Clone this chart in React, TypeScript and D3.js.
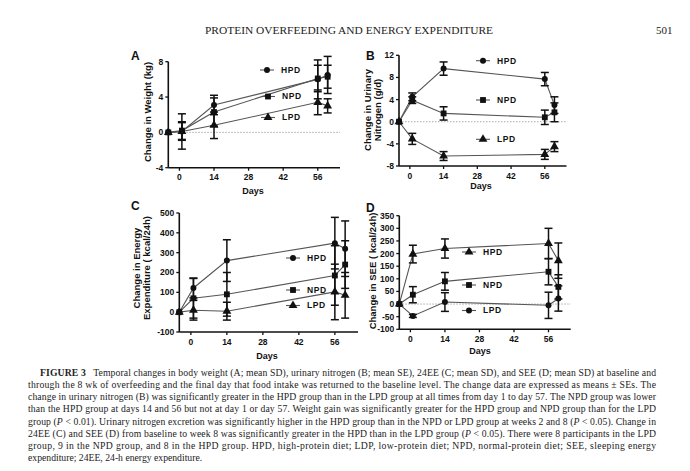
import React from 'react';
import * as d3 from 'd3';

// ---------- DATA ----------
const days = [-4.5, 1, 14, 56, 60];
const xTicks = [0, 14, 28, 42, 56];
const groups = ['HPD', 'NPD', 'LPD'];

// A: change in weight (kg)
const weightTicks = [-4, 0, 4, 8];
const weightHPD = [0, 0.1, 3.1, 6.0, 6.5];
const weightHPDErr = [0, 2.0, 1.1, 2.2, 2.1];
const weightNPD = [0, 0.2, 2.3, 6.1, 6.3];
const weightNPDErr = [0, 1.0, 1.6, 1.5, 1.3];
const weightLPD = [0, 0.1, 0.8, 3.4, 3.0];
const weightLPDErr = [0, 1.0, 1.5, 1.4, 0.8];

// B: change in urinary nitrogen (g/d)
const nitroTicks = [-8, -4, 0, 4, 8, 12];
const nitroHPD = [0, 4.5, 9.6, 7.7, 3.0];
const nitroHPDErr = [0, 0.7, 1.2, 1.2, 1.5];
const nitroNPD = [0, 3.9, 1.5, 0.8, 1.7];
const nitroNPDErr = [0, 0.6, 1.2, 1.3, 1.7];
const nitroLPD = [0, -3.1, -6.2, -5.9, -4.5];
const nitroLPDErr = [0, 1.0, 0.8, 0.9, 0.9];

// C: change in energy expenditure (kcal/24h)
const eeTicks = [-100, 0, 100, 200, 300, 400, 500];
const eeHPD = [0, 122, 260, 348, 320];
const eeHPDErr = [0, 50, 105, 130, 140];
const eeNPD = [0, 70, 90, 185, 240];
const eeNPDErr = [0, 100, 110, 150, 120];
const eeLPD = [0, 10, 5, 102, 85];
const eeLPDErr = [0, 50, 45, 140, 115];

// D: change in SEE (kcal/24h)
const seeTicks = [-100, -50, 0, 50, 100, 150, 200, 250, 300, 350];
const seeHPD = [0, 198, 220, 240, 172];
const seeHPDErr = [0, 35, 38, 60, 70];
const seeNPD = [0, 37, 90, 128, 68];
const seeNPDErr = [0, 32, 35, 52, 48];
const seeLPD = [0, -47, 8, -5, 22];
const seeLPDErr = [0, 6, 37, 52, 50];

const headerText = 'PROTEIN OVERFEEDING AND ENERGY EXPENDITURE';
const pageNumber = '501';

// ---------- STYLE ----------
const SANS = "'Liberation Sans', Arial, sans-serif";
const SERIF = "'Liberation Serif', 'Times New Roman', serif";

type Shape = 'circle' | 'square' | 'triangle';

const symbolFor = (s: Shape) =>
  s === 'circle' ? d3.symbolCircle : s === 'square' ? d3.symbolSquare : d3.symbolTriangle;
const sizeFor = (s: Shape) => (s === 'circle' ? 28 : s === 'square' ? 34 : 34);

function Marker({ shape, cx, cy }: { shape: Shape; cx: number; cy: number }) {
  const p = d3.symbol().type(symbolFor(shape)).size(sizeFor(shape))() as string;
  return <path d={p} transform={`translate(${cx},${cy})`} fill="#111" />;
}

interface Series {
  name: string;
  values: number[];
  errs: number[];
  shape: Shape;
  legend: [number, number];
}

interface PanelCfg {
  letter: string;
  letterPos: [number, number];
  x0: number;
  x1: number;
  yTop: number;
  yBottom: number;
  yDomain: [number, number];
  yTicks: number[];
  series: Series[];
  zeroLine: boolean;
  titleLines: string[];
  titleX: number[];
  titleY: number;
  daysPos: [number, number];
}

function Panel({ cfg }: { cfg: PanelCfg }) {
  const x = d3.scaleLinear().domain([-4.5, 65]).range([cfg.x0, cfg.x1]);
  const y = d3.scaleLinear().domain(cfg.yDomain).range([cfg.yBottom, cfg.yTop]);
  const line = d3
    .line<number>()
    .x((_, i) => x(days[i]))
    .y((v) => y(v));
  const axisY = cfg.yBottom;
  return (
    <g>
      <text x={cfg.letterPos[0]} y={cfg.letterPos[1]} fontFamily={SANS} fontWeight="bold" fontSize={12} fill="#111">
        {cfg.letter}
      </text>
      {cfg.zeroLine && (
        <line x1={cfg.x0} x2={cfg.x1} y1={y(0)} y2={y(0)} stroke="#aaa" strokeWidth={1} strokeDasharray="1.5,1.5" />
      )}
      {cfg.series.map((s) => (
        <path key={s.name + 'l'} d={line(s.values) as string} fill="none" stroke="#555" strokeWidth={1.1} />
      ))}
      {cfg.series.map((s) =>
        s.values.map((v, i) =>
          s.errs[i] > 0 ? (
            <g key={s.name + 'e' + i} stroke="#111" strokeWidth={1.5}>
              <line x1={x(days[i])} x2={x(days[i])} y1={y(v - s.errs[i])} y2={y(v + s.errs[i])} />
              <line x1={x(days[i]) - 4} x2={x(days[i]) + 4} y1={y(v - s.errs[i])} y2={y(v - s.errs[i])} />
              <line x1={x(days[i]) - 4} x2={x(days[i]) + 4} y1={y(v + s.errs[i])} y2={y(v + s.errs[i])} />
            </g>
          ) : null
        )
      )}
      {cfg.series.map((s) =>
        s.values.map((v, i) => <Marker key={s.name + 'm' + i} shape={s.shape} cx={x(days[i])} cy={y(v)} />)
      )}
      {cfg.series.map((s) => (
        <g key={s.name + 'lg'}>
          <line x1={s.legend[0] - 7} x2={s.legend[0] + 7} y1={s.legend[1]} y2={s.legend[1]} stroke="#555" strokeWidth={1.1} />
          <Marker shape={s.shape} cx={s.legend[0]} cy={s.legend[1]} />
          <text
            x={s.legend[0] + 14}
            y={s.legend[1]}
            dy="0.35em"
            fontFamily={SANS}
            fontWeight="bold"
            fontSize={8.5}
            letterSpacing={0.6}
            fill="#111"
          >
            {s.name}
          </text>
        </g>
      ))}
      <line x1={cfg.x0} x2={cfg.x0} y1={cfg.yTop} y2={axisY} stroke="#111" strokeWidth={1.6} />
      <line x1={cfg.x0} x2={cfg.x1} y1={axisY} y2={axisY} stroke="#111" strokeWidth={1.6} />
      {cfg.yTicks.map((t) => (
        <g key={'yt' + t}>
          <line x1={cfg.x0 - 3} x2={cfg.x0} y1={y(t)} y2={y(t)} stroke="#111" strokeWidth={1.3} />
          <text
            x={cfg.x0 - 5}
            y={y(t)}
            dy="0.35em"
            textAnchor="end"
            fontFamily={SANS}
            fontWeight="bold"
            fontSize={8.5}
            fill="#111"
          >
            {t}
          </text>
        </g>
      ))}
      {xTicks.map((t) => (
        <g key={'xt' + t}>
          <line x1={x(t)} x2={x(t)} y1={axisY} y2={axisY + 3} stroke="#111" strokeWidth={1.3} />
          <text x={x(t)} y={axisY + 12.5} textAnchor="middle" fontFamily={SANS} fontWeight="bold" fontSize={8.5} fill="#111">
            {t}
          </text>
        </g>
      ))}
      <text
        x={cfg.daysPos[0]}
        y={cfg.daysPos[1]}
        textAnchor="middle"
        fontFamily={SANS}
        fontWeight="bold"
        fontSize={9}
        fill="#111"
      >
        Days
      </text>
      {cfg.titleLines.map((t, i) => (
        <text
          key={'tt' + i}
          transform={`translate(${cfg.titleX[i]},${cfg.titleY}) rotate(-90)`}
          textAnchor="middle"
          dy="0.35em"
          fontFamily={SANS}
          fontWeight="bold"
          fontSize={9.5}
          fill="#111"
        >
          {t}
        </text>
      ))}
    </g>
  );
}

const panels: PanelCfg[] = [
  {
    letter: 'A',
    letterPos: [131, 60],
    x0: 168.3,
    x1: 340,
    yTop: 61.7,
    yBottom: 167.7,
    yDomain: [-4, 8],
    yTicks: weightTicks,
    series: [
      { name: groups[0], values: weightHPD, errs: weightHPDErr, shape: 'circle', legend: [267, 70] },
      { name: groups[1], values: weightNPD, errs: weightNPDErr, shape: 'square', legend: [268, 96.5] },
      { name: groups[2], values: weightLPD, errs: weightLPDErr, shape: 'triangle', legend: [268, 117.5] },
    ],
    zeroLine: true,
    titleLines: ['Change in Weight (kg)'],
    titleX: [148],
    titleY: 112,
    daysPos: [253, 193.5],
  },
  {
    letter: 'B',
    letterPos: [366, 60],
    x0: 399,
    x1: 566.5,
    yTop: 55.3,
    yBottom: 166,
    yDomain: [-8, 12],
    yTicks: nitroTicks,
    series: [
      { name: groups[0], values: nitroHPD, errs: nitroHPDErr, shape: 'circle', legend: [483, 60.7] },
      { name: groups[1], values: nitroNPD, errs: nitroNPDErr, shape: 'square', legend: [483, 100] },
      { name: groups[2], values: nitroLPD, errs: nitroLPDErr, shape: 'triangle', legend: [483, 139.3] },
    ],
    zeroLine: true,
    titleLines: ['Change in Urinary', 'Nitrogen (g/d)'],
    titleX: [368, 377.5],
    titleY: 110,
    daysPos: [481, 189],
  },
  {
    letter: 'C',
    letterPos: [131, 210],
    x0: 179.3,
    x1: 358,
    yTop: 213,
    yBottom: 332,
    yDomain: [-100, 500],
    yTicks: eeTicks,
    series: [
      { name: groups[0], values: eeHPD, errs: eeHPDErr, shape: 'circle', legend: [293, 258] },
      { name: groups[1], values: eeNPD, errs: eeNPDErr, shape: 'square', legend: [293, 290] },
      { name: groups[2], values: eeLPD, errs: eeLPDErr, shape: 'triangle', legend: [293, 305.5] },
    ],
    zeroLine: false,
    titleLines: ['Change in Energy', 'Expenditure ( kcal/24h)'],
    titleX: [136.5, 146.5],
    titleY: 268,
    daysPos: [267, 359],
  },
  {
    letter: 'D',
    letterPos: [366, 212],
    x0: 399.3,
    x1: 570.7,
    yTop: 215.7,
    yBottom: 329.3,
    yDomain: [-100, 350],
    yTicks: seeTicks,
    series: [
      { name: groups[0], values: seeHPD, errs: seeHPDErr, shape: 'triangle', legend: [469, 252] },
      { name: groups[1], values: seeNPD, errs: seeNPDErr, shape: 'square', legend: [469, 285] },
      { name: groups[2], values: seeLPD, errs: seeLPDErr, shape: 'circle', legend: [469, 310.5] },
    ],
    zeroLine: true,
    titleLines: ['Change in  SEE ( kcal/24h)'],
    titleX: [373],
    titleY: 271,
    daysPos: [480, 353.5],
  },
];

const captionLines: { parts: { t: string; b?: boolean; i?: boolean }[]; x: number; justify: boolean }[] = [
  {
    x: 40,
    justify: true,
    parts: [
      { t: 'FIGURE 3', b: true },
      {
        t: '\u2002 Temporal changes in body weight (A; mean SD), urinary nitrogen (B; mean SE), 24EE (C; mean SD), and SEE (D; mean SD) at baseline and',
      },
    ],
  },
  {
    x: 28,
    justify: true,
    parts: [
      {
        t: 'through the 8 wk of overfeeding and the final day that food intake was returned to the baseline level. The change data are expressed as means \u00B1 SEs. The',
      },
    ],
  },
  {
    x: 28,
    justify: true,
    parts: [
      {
        t: 'change in urinary nitrogen (B) was significantly greater in the HPD group than in the LPD group at all times from day 1 to day 57. The NPD group was lower',
      },
    ],
  },
  {
    x: 28,
    justify: true,
    parts: [
      {
        t: 'than the HPD group at days 14 and 56 but not at day 1 or day 57. Weight gain was significantly greater for the HPD group and NPD group than for the LPD',
      },
    ],
  },
  {
    x: 28,
    justify: true,
    parts: [
      { t: 'group (' },
      { t: 'P', i: true },
      { t: ' < 0.01). Urinary nitrogen excretion was significantly higher in the HPD group than in the NPD or LPD group at weeks 2 and 8 (' },
      { t: 'P', i: true },
      { t: ' < 0.05). Change in' },
    ],
  },
  {
    x: 28,
    justify: true,
    parts: [
      { t: '24EE (C) and SEE (D) from baseline to week 8 was significantly greater in the HPD than in the LPD group (' },
      { t: 'P', i: true },
      { t: ' < 0.05). There were 8 participants in the LPD' },
    ],
  },
  {
    x: 28,
    justify: true,
    parts: [
      {
        t: 'group, 9 in the NPD group, and 8 in the HPD group. HPD, high-protein diet; LDP, low-protein diet; NPD, normal-protein diet; SEE, sleeping energy',
      },
    ],
  },
  { x: 28, justify: false, parts: [{ t: 'expenditure; 24EE, 24-h energy expenditure.' }] },
];

export default function App() {
  const right = 656;
  return (
    <svg
      width={690}
      height={471}
      viewBox="0 0 690 471"
      style={{ position: 'absolute', left: 0, top: 0, background: '#fff' }}
    >
      <rect width={690} height={471} fill="#fff" />
      <text x={205} y={34} fontFamily={SERIF} fontSize={10.5} textLength={288} lengthAdjust="spacingAndGlyphs" fill="#222">
        {headerText}
      </text>
      <text x={656} y={34} fontFamily={SERIF} fontSize={11} fill="#222">
        {pageNumber}
      </text>
      {panels.map((p) => (
        <Panel key={p.letter} cfg={p} />
      ))}
      {captionLines.map((ln, i) => (
        <text
          key={'cap' + i}
          x={ln.x}
          y={376 + i * 12.14}
          fontFamily={SERIF}
          fontSize={9.7}
          fill="#222"
          textLength={ln.justify ? right - ln.x : undefined}
          lengthAdjust={ln.justify ? 'spacing' : undefined}
        >
          {ln.parts.map((pt, j) => (
            <tspan key={j} fontWeight={pt.b ? 'bold' : undefined} fontStyle={pt.i ? 'italic' : undefined}>
              {pt.t}
            </tspan>
          ))}
        </text>
      ))}
    </svg>
  );
}
